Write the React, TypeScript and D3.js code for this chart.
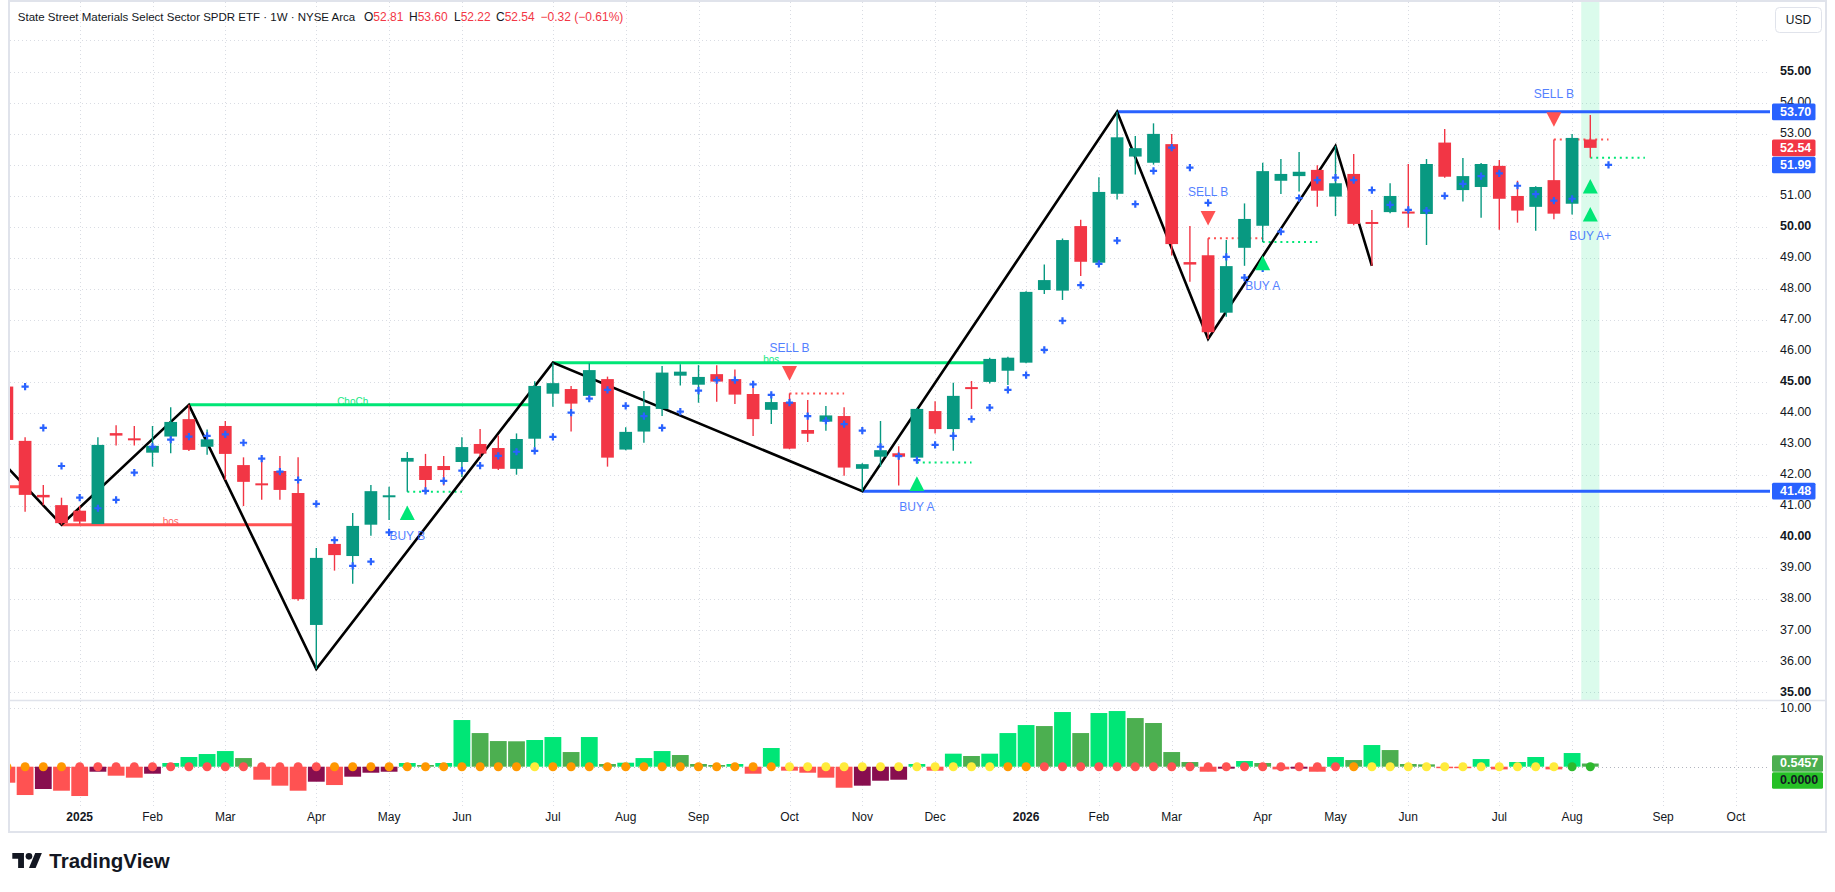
import React from 'react';
import * as d3 from 'd3';

// weekly bars, first visible week starts Mon 9 Dec 2024
const firstWeek = Date.UTC(2024, 11, 9);

const opens = [
  44.85, 43.10, 41.36, 41.03, 40.85, 40.42, 43.35, 43.17, 42.72, 43.24,
  43.80, 42.91, 43.58, 42.32, 41.72, 42.13, 41.42, 37.17, 39.78, 39.39,
  40.40, 41.30, 42.43, 42.29, 42.29, 42.42, 43.00, 42.87, 42.20, 43.17,
  44.62, 44.77, 44.55, 45.09, 42.82, 43.40, 44.13, 45.20, 44.91, 45.25,
  45.09, 44.61, 44.10, 44.35, 43.45, 43.72, 43.90, 42.20, 42.59, 42.70,
  42.56, 44.06, 43.48, 44.83, 45.00, 45.36, 45.62, 47.96, 47.94, 50.02,
  48.84, 51.06, 52.26, 52.06, 52.66, 48.86, 49.08, 47.23, 49.32, 50.03,
  51.48, 51.63, 51.83, 50.97, 51.70, 50.14, 50.47, 50.47, 50.41, 52.71,
  51.18, 51.28, 51.96, 50.99, 50.64, 51.50, 50.74, 52.81,
];
const highs = [
  44.95, 43.22, 41.68, 41.27, 41.00, 43.22, 43.60, 43.58, 43.58, 44.18,
  44.26, 43.47, 43.74, 42.57, 42.57, 42.61, 42.57, 39.65, 39.96, 40.78,
  41.68, 41.62, 42.74, 42.68, 42.61, 43.22, 43.48, 43.27, 43.34, 45.02,
  45.62, 44.87, 45.60, 45.17, 43.54, 44.71, 45.51, 45.57, 45.54, 45.54,
  45.40, 45.01, 44.63, 44.63, 44.42, 44.22, 44.18, 42.38, 43.74, 42.93,
  44.16, 44.38, 44.97, 45.03, 45.78, 45.81, 47.92, 48.78, 49.62, 50.22,
  51.59, 53.70, 52.92, 53.33, 52.99, 50.02, 49.63, 49.57, 50.75, 52.06,
  52.18, 52.41, 51.98, 52.60, 52.34, 50.54, 51.40, 52.02, 52.18, 53.15,
  52.21, 52.05, 52.15, 51.48, 51.30, 52.81, 52.99, 53.60,
];
const lows = [
  43.00, 40.82, 41.03, 40.40, 40.42, 40.42, 42.95, 42.95, 42.27, 42.70,
  42.77, 42.65, 41.84, 41.00, 41.20, 41.20, 37.95, 35.75, 38.92, 38.50,
  40.04, 40.55, 41.46, 41.39, 41.66, 41.94, 42.59, 42.16, 42.01, 42.89,
  44.20, 43.40, 44.36, 42.27, 42.80, 43.04, 43.90, 44.88, 44.33, 44.36,
  44.29, 43.26, 43.64, 42.83, 43.06, 43.43, 41.98, 41.48, 42.27, 41.66,
  42.40, 43.34, 42.78, 44.13, 44.95, 44.90, 45.60, 47.83, 47.64, 48.41,
  48.80, 50.88, 51.68, 52.00, 49.07, 48.23, 46.38, 47.10, 48.74, 49.51,
  51.05, 51.13, 50.64, 50.34, 50.05, 48.74, 50.43, 49.97, 49.41, 51.58,
  50.81, 50.29, 49.90, 50.13, 49.87, 50.24, 50.39, 52.22,
];
const closes = [
  43.13, 41.36, 41.28, 40.45, 40.50, 42.97, 43.27, 43.13, 42.94, 43.71,
  42.81, 43.15, 42.68, 41.78, 41.68, 41.52, 38.00, 39.33, 39.42, 40.36,
  41.48, 41.33, 42.55, 41.84, 42.16, 42.90, 42.69, 42.20, 43.16, 44.87,
  44.96, 44.30, 45.38, 42.56, 43.39, 44.22, 45.30, 45.33, 45.16, 45.01,
  44.59, 43.80, 44.35, 42.85, 43.33, 43.92, 42.24, 42.35, 42.80, 42.59,
  44.13, 43.48, 44.55, 44.77, 45.74, 45.78, 47.90, 48.28, 49.57, 48.87,
  51.12, 52.88, 52.53, 52.99, 49.44, 48.78, 46.60, 48.73, 50.25, 51.79,
  51.70, 51.77, 51.16, 51.40, 50.09, 50.10, 50.99, 50.44, 52.02, 51.61,
  51.63, 52.02, 50.90, 50.52, 51.28, 50.42, 52.86, 52.54,
];

// blue "+" trailing marks (one slot per bar, last one is the next week)
const trendMarks = [
  null, 44.85, 43.52, 42.29, 41.27, 40.93, 41.20, 42.08, 42.91, 43.14,
  43.24, 43.26, 43.31, 43.04, 42.53, 42.11, 41.84, 41.07, 39.90, 39.07,
  39.21, 40.15, 40.71, 41.49, 41.81, 42.14, 42.30, 42.62, 42.75, 42.78,
  43.23, 44.01, 44.46, 44.74, 44.23, 43.90, 43.52, 44.04, 44.72, 45.06,
  45.06, 44.92, 44.58, 44.33, 43.90, 43.75, 43.64, 43.43, 42.91, 42.61,
  42.48, 42.97, 43.26, 43.80, 44.17, 44.74, 45.22, 46.03, 46.97, 48.12,
  48.80, 49.55, 50.73, 51.80, 52.55, 51.90, 50.77, 49.03, 48.36, 48.66,
  49.84, 50.92, 51.50, 51.58, 51.50, 51.18, 50.70, 50.54, 50.52, 50.99,
  51.38, 51.63, 51.72, 51.32, 51.05, 50.84, 50.90, null, 51.99,
];

// squeeze momentum histogram
const momentum = [
  -2.74, -4.85, -3.82, -4.11, -5.02, -0.86, -1.54, -1.88, -1.20, 0.63,
  1.66, 2.17, 2.68, 1.48, -2.23, -3.25, -4.11, -2.57, -3.14, -1.71,
  -1.03, -0.86, 0.63, 0.29, 0.63, 7.99, 5.76, 4.39, 4.35, 4.57,
  5.08, 2.51, 5.08, 0.46, 0.68, 1.48, 2.68, 2.00, 0.46, 0.29,
  0.46, -1.20, 3.20, -0.68, -1.03, -1.88, -3.60, -3.25, -2.40, -2.23,
  0.46, -0.68, 2.23, 1.83, 2.23, 5.76, 7.13, 6.96, 9.36, 5.76,
  9.19, 9.53, 8.33, 7.48, 2.51, 0.80, -0.86, -0.34, 0.97, 0.63,
  -0.46, -0.34, -0.86, 1.66, 1.14, 3.71, 2.85, 0.46, 0.40, -0.11,
  -0.15, 1.31, -0.46, 0.80, 1.66, -0.46, 2.34, 0.5457,
];
// squeeze dots: o = orange, r = red, y = yellow, g = green
const squeezeStates =
  'oooo' + 'rrrrrrrrrrrrrr' + 'ooooooooooo' + 'y' + 'ooooooooooooo' +
  'yyyyyyyyyyyy' + 'oo' + 'rrrrrrrrrrrrrrrrr' + 'o' + 'yyyyyyyyyyy' + 'gg';

// zigzag swing points
const pivotBars = [-2, 3, 10, 17, 30, 47, 61, 66, 73, 75];
const pivotPrices = [43.5, 40.40, 44.26, 35.75, 45.62, 41.48, 53.70, 46.38, 52.60, 48.74];

// structure levels (end null = runs to the price scale)
const levelStart = [-3, 3, 10, 30, 47, 61];
const levelEnd = [1, 16, 29, 54, null, null];
const levelPrice = [41.62, 40.40, 44.26, 45.62, 41.48, 53.70];
const levelKind = ['bear', 'bear', 'bull', 'bull', 'range', 'range'];
const levelText = ['', 'bos', 'ChoCh', 'bos', '', ''];

// signals
const signalBars = [22, 43, 50, 66, 69, 85, 87];
const signalSide = ['buy', 'sell', 'buy', 'sell', 'buy', 'sell', 'buy'];
const signalText = ['BUY B', 'SELL B', 'BUY A', 'SELL B', 'BUY A', 'SELL B', 'BUY A+'];
const highlightBars = [87];

const priceTicks = [35, 36, 37, 38, 39, 40, 41, 42, 43, 44, 45, 46, 47, 48, 49, 50, 51, 52, 53, 54, 55];
const gridPrices = [35, 36, 37, 38, 39, 40, 41, 42, 43, 44, 45, 46, 47, 48, 49, 50, 51, 52, 53, 54, 55, 56];
const monthNames = ['Jan', 'Feb', 'Mar', 'Apr', 'May', 'Jun', 'Jul', 'Aug', 'Sep', 'Oct', 'Nov', 'Dec'];

const FONT = "'Liberation Sans', Arial, sans-serif";
const UP = '#089981';
const DOWN = '#f23645';
const BLUE = '#2962ff';
const GRID = '#d9dce3';
const PLOT_L = 10, PLOT_R = 1770, MAIN_T = 2, MAIN_B = 700, IND_T = 701, IND_B = 806;

function App() {
  const n = closes.length;
  const x = d3.scaleLinear().domain([0, 87]).range([6.9, 6.9 + 87 * 18.2]);
  const y = d3.scaleLinear().domain([35, 55]).range([692.3, 71.5]);
  const yi = d3.scaleLinear().domain([0, 10]).range([766.7, 708.3]);
  const step = x(1) - x(0);
  const bodyW = 12.7;

  // month ticks (first bar of every month)
  const DAY = 86400000;
  const ticks: { i: number; label: string; year: boolean }[] = [];
  for (let i = 1; i < 110; i++) {
    const d = new Date(firstWeek + i * 7 * DAY);
    const p = new Date(firstWeek + (i - 1) * 7 * DAY);
    if (x(i) > PLOT_R - 15) break;
    if (d.getUTCMonth() !== p.getUTCMonth()) {
      const m = d.getUTCMonth();
      ticks.push({ i, label: m === 0 ? String(d.getUTCFullYear()) : monthNames[m], year: m === 0 });
    }
  }

  const zigzag = d3.line<number>()
    .x((_, k) => x(pivotBars[k]))
    .y((p) => y(p))(pivotPrices) || '';

  const levelColor: Record<string, string> = { bear: '#ff5252', bull: '#00e676', range: BLUE };
  const dotColor: Record<string, string> = { o: '#ff9800', r: '#ff5252', y: '#ffeb3b', g: '#2db92d' };

  const last = n - 1;
  const chg = closes[last] - closes[last - 1];
  const chgPct = (chg / closes[last - 1]) * 100;
  const fmtSigned = (v: number, suffix = '') => (v < 0 ? '\u2212' : '+') + Math.abs(v).toFixed(2) + suffix;

  const triangle = (cx: number, cy: number, down: boolean) => {
    const hw = 7.5, hh = 7.3;
    return down
      ? `M${cx - hw},${cy - hh}L${cx + hw},${cy - hh}L${cx},${cy + hh}Z`
      : `M${cx - hw},${cy + hh}L${cx + hw},${cy + hh}L${cx},${cy - hh}Z`;
  };

  // price-scale badges
  const badges = [
    { v: levelPrice[5], color: BLUE },
    { v: closes[last], color: DOWN },
    { v: trendMarks[trendMarks.length - 1] as number, color: BLUE },
    { v: levelPrice[4], color: BLUE },
  ];
  const indBadgeY1 = yi(momentum[last]);
  const indBadgeY2 = Math.max(yi(0), indBadgeY1 + 17);

  return (
    <div style={{ width: 1835, height: 892, background: '#fff' }}>
      <style>{'body{margin:0}'}</style>
      <svg width={1835} height={892} style={{ display: 'block', fontFamily: FONT }}>
        <defs>
          <clipPath id="mainClip"><rect x={PLOT_L} y={MAIN_T} width={PLOT_R - PLOT_L} height={MAIN_B - MAIN_T} /></clipPath>
          <clipPath id="indClip"><rect x={PLOT_L} y={IND_T} width={PLOT_R - PLOT_L} height={IND_B - IND_T} /></clipPath>
        </defs>
        <rect width={1835} height={892} fill="#fff" />

        {/* grid */}
        <g stroke={GRID} strokeWidth={1} strokeDasharray="1 3">
          {gridPrices.map((p) => (
            <line key={'h' + p} x1={PLOT_L} x2={PLOT_R} y1={Math.round(y(p)) + 0.5} y2={Math.round(y(p)) + 0.5} />
          ))}
          {ticks.map((t) => (
            <g key={'v' + t.i}>
              <line x1={Math.round(x(t.i)) + 0.5} x2={Math.round(x(t.i)) + 0.5} y1={MAIN_T} y2={MAIN_B} />
              <line x1={Math.round(x(t.i)) + 0.5} x2={Math.round(x(t.i)) + 0.5} y1={IND_T} y2={IND_B} />
            </g>
          ))}
          <line x1={PLOT_L} x2={PLOT_R} y1={Math.round(yi(10)) + 0.5} y2={Math.round(yi(10)) + 0.5} />
          <line x1={PLOT_L} x2={PLOT_R} y1={Math.round(yi(0)) + 0.5} y2={Math.round(yi(0)) + 0.5} stroke="#b2b5be" />
        </g>

        <g clipPath="url(#mainClip)">
          {highlightBars.map((i) => (
            <rect key={'hl' + i} x={x(i) - step / 2} y={MAIN_T} width={step} height={MAIN_B - MAIN_T} fill="rgba(0,230,118,0.14)" />
          ))}

          {/* structure levels */}
          {levelPrice.map((p, k) => {
            const x1 = x(levelStart[k]);
            const x2 = levelEnd[k] === null ? PLOT_R : x(levelEnd[k] as number);
            const col = levelColor[levelKind[k]];
            const mid = levelEnd[k] === null ? null : Math.floor((levelStart[k] + (levelEnd[k] as number)) / 2);
            return (
              <g key={'lv' + k}>
                <line x1={x1} x2={x2} y1={y(p)} y2={y(p)} stroke={col} strokeWidth={3} />
                {levelText[k] && mid !== null && (
                  <text x={x(mid)} y={y(p) + 0.5} fontSize={10} fill={col} opacity={0.9} textAnchor="middle">
                    {levelText[k]}
                  </text>
                )}
              </g>
            );
          })}

          {/* signal dotted levels */}
          {signalBars.map((i, k) => {
            const sell = signalSide[k] === 'sell';
            const lv = sell ? highs[i] : lows[i];
            return (
              <line key={'sd' + k} x1={x(i)} x2={x(i + 3)} y1={y(lv)} y2={y(lv)}
                stroke={sell ? '#ff5252' : '#00e676'} strokeWidth={2} strokeDasharray="2 3.9" />
            );
          })}

          {/* zigzag */}
          <path d={zigzag} fill="none" stroke="#000" strokeWidth={2.6} strokeLinejoin="miter" />

          {/* candles */}
          {opens.map((o, i) => {
            const c = closes[i];
            const col = c >= o ? UP : DOWN;
            const top = y(Math.max(o, c));
            const bot = y(Math.min(o, c));
            const h = Math.max(bot - top, 2);
            const yy = bot - top < 2 ? (top + bot) / 2 - 1 : top;
            return (
              <g key={'c' + i}>
                <line x1={x(i)} x2={x(i)} y1={y(highs[i])} y2={y(lows[i])} stroke={col} strokeWidth={1.4} />
                <rect x={x(i) - bodyW / 2} y={yy} width={bodyW} height={h} fill={col} />
              </g>
            );
          })}

          {/* trailing crosses */}
          {trendMarks.map((v, i) => {
            if (v === null) return null;
            const cx = x(i), cy = y(v);
            return <path key={'t' + i} d={`M${cx - 3.6},${cy}h7.2M${cx},${cy - 3.6}v7.2`} stroke={BLUE} strokeWidth={2.2} />;
          })}

          {/* signals */}
          {signalBars.map((i, k) => {
            const sell = signalSide[k] === 'sell';
            const plus = signalText[k].endsWith('+');
            if (sell) {
              const base = y(highs[i]);
              return (
                <g key={'sg' + k}>
                  <path d={triangle(x(i), base - 20, true)} fill="#ff5252" />
                  <text x={x(i)} y={base - 45} fontSize={12} fill={BLUE} opacity={0.8} textAnchor="middle" dominantBaseline="middle">{signalText[k]}</text>
                </g>
              );
            }
            const base = y(lows[i]);
            const offs = plus ? [28.5, 56.5] : [21];
            const labelOff = plus ? 79 : 45;
            return (
              <g key={'sg' + k}>
                {offs.map((o) => <path key={o} d={triangle(x(i), base + o, false)} fill="#00e676" />)}
                <text x={x(i)} y={base + labelOff} fontSize={12} fill={BLUE} opacity={0.8} textAnchor="middle" dominantBaseline="middle">{signalText[k]}</text>
              </g>
            );
          })}
        </g>

        {/* momentum pane */}
        <g clipPath="url(#indClip)">
          {momentum.map((v, i) => {
            const prev = i === 0 ? 0 : momentum[i - 1];
            const col = v >= 0 ? (v > prev ? '#00e676' : '#4caf50') : (v < prev ? '#ff5252' : '#880e4f');
            const y0 = yi(0), y1 = yi(v);
            const top = Math.min(y0, y1);
            const h = Math.max(Math.abs(y1 - y0), 1.5);
            return <rect key={'m' + i} x={x(i) - 8.4} y={top} width={16.8} height={h} fill={col} />;
          })}
          {squeezeStates.split('').map((s, i) => (
            <circle key={'d' + i} cx={x(i)} cy={yi(0)} r={4.5} fill={dotColor[s]} />
          ))}
        </g>

        {/* frame */}
        <rect x={9} y={1} width={1817} height={831} fill="none" stroke="#e0e3eb" strokeWidth={2} />
        <line x1={9} x2={1826} y1={700.5} y2={700.5} stroke="#e0e3eb" strokeWidth={1.5} />

        {/* title */}
        <text y={20.7} fontSize={12} fill="#131722">
          <tspan x={17.8} fontSize={11.5}>State Street Materials Select Sector SPDR ETF · 1W · NYSE Arca</tspan>
          <tspan x={364}>O</tspan><tspan fill={DOWN}>{opens[last].toFixed(2)}</tspan>
          <tspan x={409}>H</tspan><tspan fill={DOWN}>{highs[last].toFixed(2)}</tspan>
          <tspan x={454}>L</tspan><tspan fill={DOWN}>{lows[last].toFixed(2)}</tspan>
          <tspan x={496}>C</tspan><tspan fill={DOWN}>{closes[last].toFixed(2)}</tspan>
          <tspan x={540.6} fill={DOWN}>{fmtSigned(chg)} ({fmtSigned(chgPct, '%')})</tspan>
        </text>

        {/* price scale */}
        <rect x={1775.5} y={7.5} width={46} height={25} rx={4} fill="#fff" stroke="#e0e3eb" />
        <text x={1798.5} y={20.5} fontSize={12} fill="#131722" textAnchor="middle" dominantBaseline="middle">USD</text>
        {priceTicks.map((p) => (
          <text key={'pt' + p} x={1780} y={y(p)} fontSize={12.5} fill="#131722" fontWeight={p % 5 === 0 ? 700 : 400} dominantBaseline="middle">
            {p.toFixed(2)}
          </text>
        ))}
        {badges.map((b, k) => (
          <g key={'b' + k}>
            <rect x={1772} y={y(b.v) - 8.3} width={43.5} height={16.6} rx={1.5} fill={b.color} />
            <text x={1780} y={y(b.v) + 0.5} fontSize={12.5} fontWeight={600} fill="#fff" dominantBaseline="middle">{b.v.toFixed(2)}</text>
          </g>
        ))}

        {/* momentum scale */}
        <text x={1780} y={yi(10)} fontSize={12.5} fill="#131722" dominantBaseline="middle">10.00</text>
        <rect x={1772} y={indBadgeY1 - 8.3} width={51} height={16.6} rx={1.5} fill="#4caf50" />
        <text x={1780} y={indBadgeY1 + 0.5} fontSize={12.5} fontWeight={600} fill="#fff" dominantBaseline="middle">{momentum[last].toFixed(4)}</text>
        <rect x={1772} y={indBadgeY2 - 8.3} width={51} height={16.6} rx={1.5} fill="#26c026" />
        <text x={1780} y={indBadgeY2 + 0.5} fontSize={12.5} fontWeight={600} fill="#131722" dominantBaseline="middle">{(0).toFixed(4)}</text>

        {/* time scale */}
        {ticks.map((t) => (
          <text key={'tl' + t.i} x={x(t.i)} y={818} fontSize={12} fill="#131722" fontWeight={t.year ? 700 : 400}
            textAnchor="middle" dominantBaseline="middle">{t.label}</text>
        ))}

        {/* TradingView logo */}
        <g transform="translate(12.3,849.7) scale(0.833)" fill="#131722">
          <path d="M14 22H7V11H0V4h14v18z" />
          <circle cx={20} cy={8} r={4} />
          <path d="M28 22h-8l7.5-18h8L28 22z" />
        </g>
        <text x={49.3} y={868.3} fontSize={20.5} fontWeight={700} fill="#131722">TradingView</text>
      </svg>
    </div>
  );
}

export default App;
